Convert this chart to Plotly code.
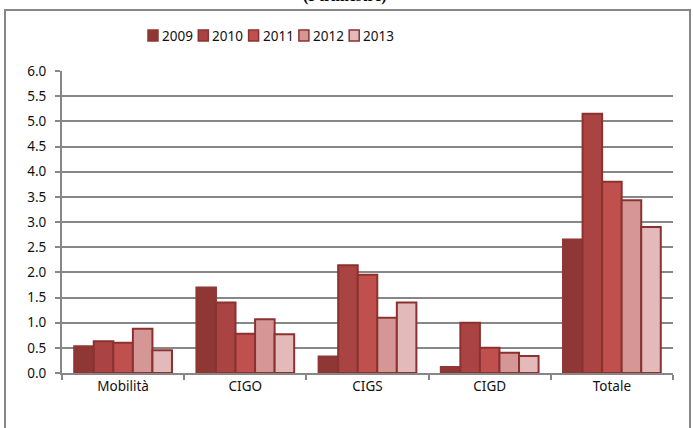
import plotly.graph_objects as go

categories = ["Mobilità", "CIGO", "CIGS", "CIGD", "Totale"]
years = ["2009", "2010", "2011", "2012", "2013"]
v2009 = [0.53, 1.70, 0.33, 0.12, 2.65]
v2010 = [0.63, 1.40, 2.14, 1.00, 5.15]
v2011 = [0.60, 0.78, 1.95, 0.50, 3.80]
v2012 = [0.88, 1.07, 1.10, 0.40, 3.43]
v2013 = [0.45, 0.77, 1.40, 0.34, 2.90]
series = [v2009, v2010, v2011, v2012, v2013]
colors = ["#8E3735", "#A94442", "#C0504D", "#D59795", "#E3BAB9"]
outline = ["#8E3735", "#8B3231", "#8B3231", "#8B3231", "#8B3231"]

W, H = 693, 428
# plot area in pixels
SL, SR, ST, SB = 62, 673, 71, 373
pw, ph = SR - SL, SB - ST

def px(x):
    return (x - SL) / pw

def py(y):
    return (SB - y) / ph

FONT = "Noto Sans, DejaVu Sans, sans-serif"

fig = go.Figure()
for name, vals, c, oc in zip(years, series, colors, outline):
    fig.add_trace(go.Bar(
        name=name, x=categories, y=vals,
        marker=dict(color=c, line=dict(color=oc, width=2)),
    ))

shapes = [dict(type="rect", xref="paper", yref="paper",
               x0=px(5), x1=px(690), y0=py(445), y1=py(10),
               line=dict(color="#878787", width=2), fillcolor="rgba(0,0,0,0)",
               layer="below")]
annotations = [dict(text="<b>(I trimestre)</b>", xref="paper", yref="paper",
                    x=px(345), y=py(-3.5), xanchor="center", yanchor="middle",
                    showarrow=False,
                    font=dict(family="Liberation Serif, serif", size=16, color="#000"))]

# legend drawn as small squares + labels
leg_x0, leg_step, sq = 148, 50.3, 10
for i, (name, c, oc) in enumerate(zip(years, colors, outline)):
    x = leg_x0 + leg_step * i
    shapes.append(dict(type="rect", xref="paper", yref="paper",
                       x0=px(x), x1=px(x + sq), y0=py(41), y1=py(30),
                       fillcolor=c, line=dict(color=oc, width=1.5)))
    annotations.append(dict(text=name, xref="paper", yref="paper",
                            x=px(x + sq + 2), y=py(35.5), xanchor="left", yanchor="middle",
                            showarrow=False,
                            font=dict(family=FONT, size=13.5, color="#111")))

fig.update_layout(
    width=W, height=H,
    margin=dict(l=SL, r=W - SR, t=ST, b=H - SB),
    paper_bgcolor="white", plot_bgcolor="white",
    barmode="group", bargap=0.2, bargroupgap=0,
    font=dict(family=FONT, size=13, color="#111"),
    showlegend=False,
    xaxis=dict(showline=True, linecolor="#878787", linewidth=2, ticks="outside",
               tickson="boundaries", ticklen=5, tickcolor="#878787", tickwidth=2,
               showgrid=False, tickfont=dict(size=13.5, color="#111")),
    yaxis=dict(range=[0, 6], dtick=0.5, tickformat=".1f", showline=True,
               linecolor="#878787", linewidth=2, ticks="outside", ticklen=5,
               tickcolor="#878787", tickwidth=2, showgrid=True, gridcolor="#878787",
               gridwidth=2, zeroline=False, ticklabelstandoff=6,
               tickfont=dict(size=13.5, color="#111")),
    shapes=shapes,
    annotations=annotations,
)

fig.write_html("out.html", config={"displayModeBar": False},
               post_script="document.body.style.margin='0';document.body.style.overflow='hidden';")
